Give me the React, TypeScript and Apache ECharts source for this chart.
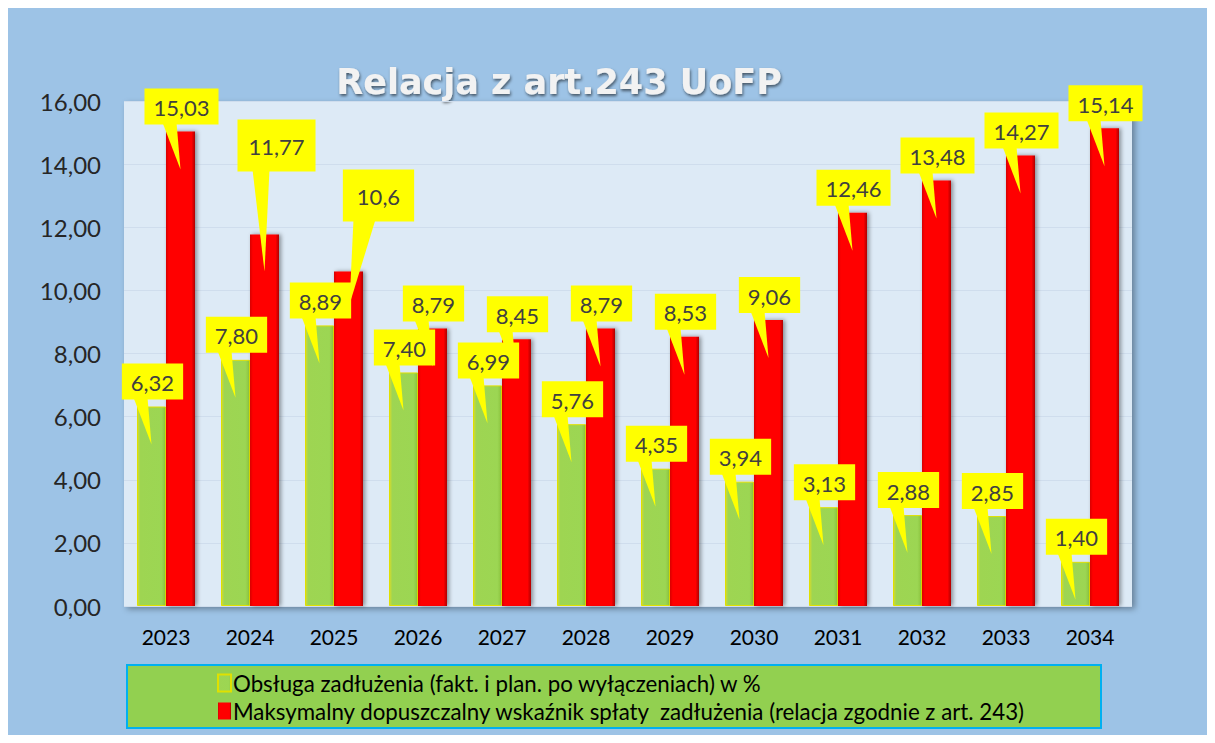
import React, { useEffect, useRef } from "react";
import * as echarts from "echarts";

const years = ["2023", "2024", "2025", "2026", "2027", "2028", "2029", "2030", "2031", "2032", "2033", "2034"];
const debtService = [6.32, 7.8, 8.89, 7.4, 6.99, 5.76, 4.35, 3.94, 3.13, 2.88, 2.85, 1.4];
const maxRatio = [15.03, 11.77, 10.6, 8.79, 8.45, 8.79, 8.53, 9.06, 12.46, 13.48, 14.27, 15.14];
const seriesNames = [
  "Obsługa zadłużenia (fakt. i plan. po wyłączeniach) w %",
  "Maksymalny dopuszczalny wskaźnik spłaty  zadłużenia (relacja zgodnie z art. 243)",
];
const titleText = "Relacja z art.243 UoFP";

const BAR_W = 29;
const FONT = "Lato, 'Liberation Sans', sans-serif";

type Callout = { dx: number; gap: number; pad: number[]; base: number[]; tipDx: number; tip: number };
const defaultCallout: Callout = { dx: 1, gap: 7, pad: [7, 9, 5, 9], base: [-18, -4], tipDx: 0, tip: 38 };
const redOverrides: Record<number, Partial<Callout>> = {
  1: { dx: 12, gap: 63, pad: [15, 11, 13, 11], base: [-12, 5], tip: 37 },
  2: { dx: 30, gap: 50, pad: [15, 14, 13, 14], base: [5, 27], tipDx: 1, tip: 33 },
};

function fmtGreen(v: number) {
  return v.toFixed(2).replace(".", ",");
}
function fmtRed(v: number) {
  return String(v).replace(".", ",");
}

function makeCalloutSeries(values: number[], side: number, fmt: (v: number) => string, overrides: Record<number, Partial<Callout>>) {
  return {
    type: "custom",
    silent: true,
    clip: false,
    z: 10,
    encode: { x: 0, y: 1 },
    data: values.map((v, i) => [i, v]),
    renderItem: (params: any, api: any) => {
      const i = api.value(0);
      const v = api.value(1);
      const p = api.coord([i, v]);
      const cx = p[0] + side * (BAR_W / 2);
      const top = p[1];
      const c: Callout = { ...defaultCallout, ...(overrides[i] || {}) };
      const boxBottom = top - c.gap;
      return {
        type: "group",
        children: [
          {
            type: "polygon",
            shape: {
              points: [
                [cx + c.base[0], boxBottom - 2],
                [cx + c.base[1], boxBottom - 2],
                [cx + c.tipDx, top + c.tip],
              ],
            },
            style: { fill: "#FFFF00" },
          },
          {
            type: "text",
            style: {
              text: fmt(v),
              x: cx + c.dx,
              y: boxBottom,
              align: "center",
              verticalAlign: "bottom",
              fill: "#404040",
              fontSize: 22,
              fontFamily: FONT,
              lineHeight: 24,
              backgroundColor: "#FFFF00",
              padding: c.pad,
            },
          },
        ],
      };
    },
  };
}

export default function App() {
  const ref = useRef<HTMLDivElement>(null);
  useEffect(() => {
    if (!ref.current) return;
    const chart = echarts.init(ref.current, null, { renderer: "svg" });
    const greenGrad = new echarts.graphic.LinearGradient(0, 0, 1, 0, [
      { offset: 0, color: "#D6DC2A" },
      { offset: 0.1, color: "#9ED552" },
      { offset: 0.85, color: "#9CD653" },
      { offset: 1, color: "#8CC43F" },
    ]);
    const redGrad = new echarts.graphic.LinearGradient(0, 0, 1, 0, [
      { offset: 0, color: "#D80000" },
      { offset: 0.1, color: "#FF0000" },
      { offset: 0.88, color: "#FF0000" },
      { offset: 1, color: "#B00000" },
    ]);
    chart.setOption({
      animation: false,
      backgroundColor: "#9DC3E6",
      grid: {
        left: 116,
        right: 75,
        top: 93,
        bottom: 129,
        show: true,
        backgroundColor: "#DDEAF6",
        borderWidth: 0,
        shadowColor: "rgba(0,0,0,0.35)",
        shadowBlur: 6,
        shadowOffsetX: 3,
        shadowOffsetY: 3,
      },
      xAxis: {
        type: "category",
        data: years,
        axisLine: { show: false },
        axisTick: { show: false },
        axisLabel: { color: "#000", fontSize: 21, fontFamily: FONT, margin: 20 },
      },
      yAxis: {
        type: "value",
        min: 0,
        max: 16,
        interval: 2,
        axisLine: { show: false },
        axisTick: { show: false },
        splitLine: { lineStyle: { color: "#CFDDED", width: 1 } },
        axisLabel: {
          color: "#262626",
          fontSize: 24,
          fontFamily: FONT,
          margin: 23,
          formatter: (v: number) => v.toFixed(2).replace(".", ","),
        },
      },
      legend: {
        data: seriesNames,
        orient: "vertical",
        left: 204,
        top: 659,
        itemGap: 6,
        itemWidth: 13,
        itemHeight: 17,
        selectedMode: false,
        icon: "rect",
        textStyle: { color: "#000", fontSize: 22.3, fontFamily: FONT, padding: [0, 0, 0, -3] },
      },
      graphic: [
        {
          type: "rect",
          z: -1,
          shape: { x: 119, y: 657, width: 974, height: 63 },
          style: { fill: "#92D050", stroke: "#00B0F0", lineWidth: 2 },
        },
        {
          type: "text",
          x: 551,
          y: 74,
          style: {
            text: titleText,
            align: "center",
            verticalAlign: "middle",
            fill: "#F2F2F2",
            fontSize: 35,
            fontWeight: "bold",
            fontFamily: "'DejaVu Sans', sans-serif",
            textShadowColor: "rgba(0,0,0,0.55)",
            textShadowBlur: 3,
            textShadowOffsetX: 1,
            textShadowOffsetY: 2,
          },
        },
      ],
      series: [
        {
          name: seriesNames[0],
          type: "bar",
          data: debtService,
          barWidth: BAR_W,
          barGap: "0%",
          itemStyle: { color: greenGrad, borderColor: "#E0E000", borderWidth: 1 },
        },
        {
          name: seriesNames[1],
          type: "bar",
          data: maxRatio,
          barWidth: BAR_W,
          barGap: "0%",
          itemStyle: {
            color: redGrad,
            shadowColor: "rgba(0,0,0,0.4)",
            shadowBlur: 4,
            shadowOffsetX: 2,
          },
        },
        makeCalloutSeries(debtService, -1, fmtGreen, {}),
        makeCalloutSeries(maxRatio, 1, fmtRed, redOverrides),
      ],
    });
    return () => chart.dispose();
  }, []);
  return <div ref={ref} style={{ width: 1199, height: 727 }} />;
}
